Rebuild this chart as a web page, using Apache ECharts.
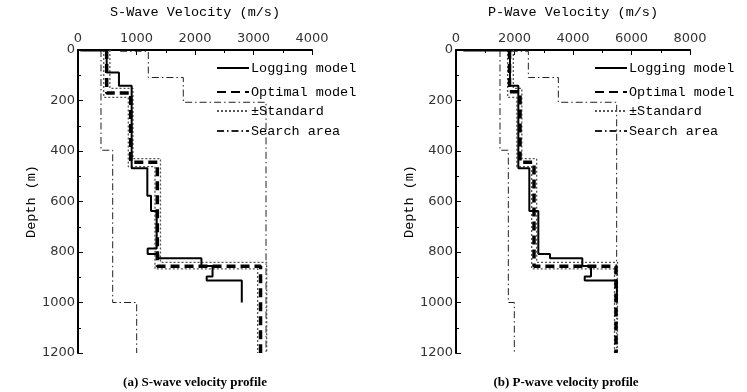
<!DOCTYPE html>
<html lang="en">

<head>
    <meta charset="UTF-8">
    <title>Velocity profiles</title>
    <script src="https://cdn.jsdelivr.net/npm/echarts@6.0.0/dist/echarts.min.js"></script>
    <style>
        body { margin: 0; background: #fff; }
        #chart { width: 747px; height: 392px; }
    </style>
</head>

<body>
    <div id="chart"></div>

    <script>
        // S-wave profile: [velocity m/s, depth m]
        const sLogging = [[40, 2], [490, 2], [490, 89], [700, 89], [700, 142], [917, 142], [917, 468], [1185, 468],
            [1185, 577], [1248, 577], [1248, 638], [1345, 638], [1345, 786], [1191, 786], [1191, 808], [1373, 808],
            [1373, 825], [2110, 825], [2110, 855], [2300, 855], [2300, 897], [2200, 897], [2200, 913], [2800, 913], [2800, 1000]];
        const sOptimal = [[490, 0], [490, 170], [901, 170], [901, 445], [1356, 445], [1356, 856], [3120, 856], [3120, 1200]];
        const sStdLow = [[440, 0], [440, 188], [860, 188], [860, 462], [1316, 462], [1316, 867], [3071, 867], [3071, 1200]];
        const sStdHigh = [[545, 0], [545, 152], [940, 152], [940, 430], [1410, 430], [1410, 841], [3225, 841], [3225, 1200]];
        const sSearchMin = [[393, 0], [393, 397], [593, 397], [593, 1000], [1003, 1000], [1003, 1200]];
        const sSearchMax = [[720, 5], [1202, 5], [1202, 109], [1800, 109], [1800, 207], [3214, 207], [3214, 1200]];

        // P-wave profile
        const pLogging = [[250, 2], [1846, 2], [1846, 142], [2131, 142], [2131, 468], [2507, 468], [2507, 638],
            [2815, 638], [2815, 808], [3214, 808], [3214, 825], [4319, 825], [4319, 855], [4615, 855], [4615, 897],
            [4400, 897], [4400, 913], [5500, 913], [5500, 1000]];
        const pOptimal = [[1830, 0], [1830, 165], [2188, 165], [2188, 445], [2667, 445], [2667, 856], [5470, 856], [5470, 1200]];
        const pStdLow = [[1766, 0], [1766, 188], [2080, 188], [2080, 462], [2587, 462], [2587, 867], [5420, 867], [5420, 1200]];
        const pStdHigh = [[1960, 0], [1960, 152], [2250, 152], [2250, 430], [2758, 430], [2758, 841], [5520, 841], [5520, 1200]];
        const pSearchMin = [[1504, 0], [1504, 397], [1789, 397], [1789, 1000], [1994, 1000], [1994, 1200]];
        const pSearchMax = [[1870, 5], [2473, 5], [2473, 109], [3499, 109], [3499, 207], [5493, 207], [5493, 1200]];

        const legendNames = ["Logging model", "Optimal model", "\u00b1Standard", "Search area"];
        const legendTops = [68, 92, 111, 131];

        const monoFont = "'Liberation Mono', monospace";
        const styles = {
            logging: { color: "#000", width: 2, type: "solid" },
            optimal: { color: "#000", width: 3.5, type: [9, 5] },
            std: { color: "#555", width: 1.3, type: [2, 2] },
            search: { color: "#222", width: 1, type: [7, 3, 1.5, 3] }
        };

        function mkXAxis(idx, name, max) {
            return {
                gridIndex: idx, type: "value", position: "top", min: 0, max: max, interval: max / 4,
                name: name, nameLocation: "middle", nameGap: 31,
                nameTextStyle: { fontFamily: monoFont, fontSize: 13.5, color: "#000" },
                axisLine: { onZero: false, lineStyle: { color: "#000", width: 2 } },
                axisTick: { inside: true, length: 5, lineStyle: { color: "#000" } },
                minorTick: { show: true, splitNumber: 2, length: 3, lineStyle: { color: "#000" } },
                splitLine: { show: false },
                axisLabel: { fontFamily: "'DejaVu Sans'", fontSize: 13, color: "#333", margin: 5,
                             formatter: v => String(v) }
            };
        }

        function mkYAxis(idx) {
            return {
                gridIndex: idx, type: "value", inverse: true, min: 0, max: 1200, interval: 200,
                name: "Depth (m)", nameLocation: "middle", nameGap: 40, nameRotate: 90,
                nameTextStyle: { fontFamily: monoFont, fontSize: 13.5, color: "#000" },
                axisLine: { onZero: false, lineStyle: { color: "#000", width: 2 } },
                axisTick: { inside: true, length: 5, lineStyle: { color: "#000" } },
                minorTick: { show: true, splitNumber: 2, length: 3, lineStyle: { color: "#000" } },
                splitLine: { show: false },
                axisLabel: { fontFamily: "'DejaVu Sans'", fontSize: 13, color: "#333", margin: 3,
                             formatter: v => String(v) }
            };
        }

        function line(name, data, idx, st) {
            return {
                name: name, type: "line", data: data, xAxisIndex: idx, yAxisIndex: idx,
                symbol: "none", animation: false, clip: false,
                lineStyle: { color: st.color, width: st.width, type: st.type },
                itemStyle: { color: st.color }
            };
        }

        function mkLegends(left) {
            return legendNames.map((n, i) => ({
                data: [n], left: left, top: legendTops[i] - 7, itemWidth: 32, itemHeight: 14, itemGap: 4,
                padding: 0, selectedMode: false,
                itemStyle: { color: "rgba(0,0,0,0)", borderWidth: 0 },
                textStyle: { fontFamily: monoFont, fontSize: 13.5, color: "#000", padding: [0, 0, 0, -3] }
            }));
        }

        let chart = echarts.init(document.getElementById("chart"));
        chart.setOption({
            backgroundColor: "#fff",
            title: [
                { text: "(a) S-wave velocity profile", left: 190, top: 371, textAlign: "center",
                  textStyle: { fontFamily: "'Liberation Serif'", fontWeight: "bold", fontSize: 13, color: "#000" } },
                { text: "(b) P-wave velocity profile", left: 561, top: 371, textAlign: "center",
                  textStyle: { fontFamily: "'Liberation Serif'", fontWeight: "bold", fontSize: 13, color: "#000" } }
            ],
            legend: mkLegends(216).concat(mkLegends(594)),
            grid: [
                { left: 78, top: 47, width: 234, height: 306 },
                { left: 456, top: 47, width: 234, height: 306 }
            ],
            xAxis: [mkXAxis(0, "S-Wave Velocity (m/s)", 4000), mkXAxis(1, "P-Wave Velocity (m/s)", 8000)],
            yAxis: [mkYAxis(0), mkYAxis(1)],
            series: [
                line(legendNames[3], sSearchMin, 0, styles.search),
                line(legendNames[3], sSearchMax, 0, styles.search),
                line(legendNames[2], sStdLow, 0, styles.std),
                line(legendNames[2], sStdHigh, 0, styles.std),
                line(legendNames[0], sLogging, 0, styles.logging),
                line(legendNames[1], sOptimal, 0, styles.optimal),
                line(legendNames[3], pSearchMin, 1, styles.search),
                line(legendNames[3], pSearchMax, 1, styles.search),
                line(legendNames[2], pStdLow, 1, styles.std),
                line(legendNames[2], pStdHigh, 1, styles.std),
                line(legendNames[0], pLogging, 1, styles.logging),
                line(legendNames[1], pOptimal, 1, styles.optimal)
            ]
        });
    </script>
</body>

</html>
